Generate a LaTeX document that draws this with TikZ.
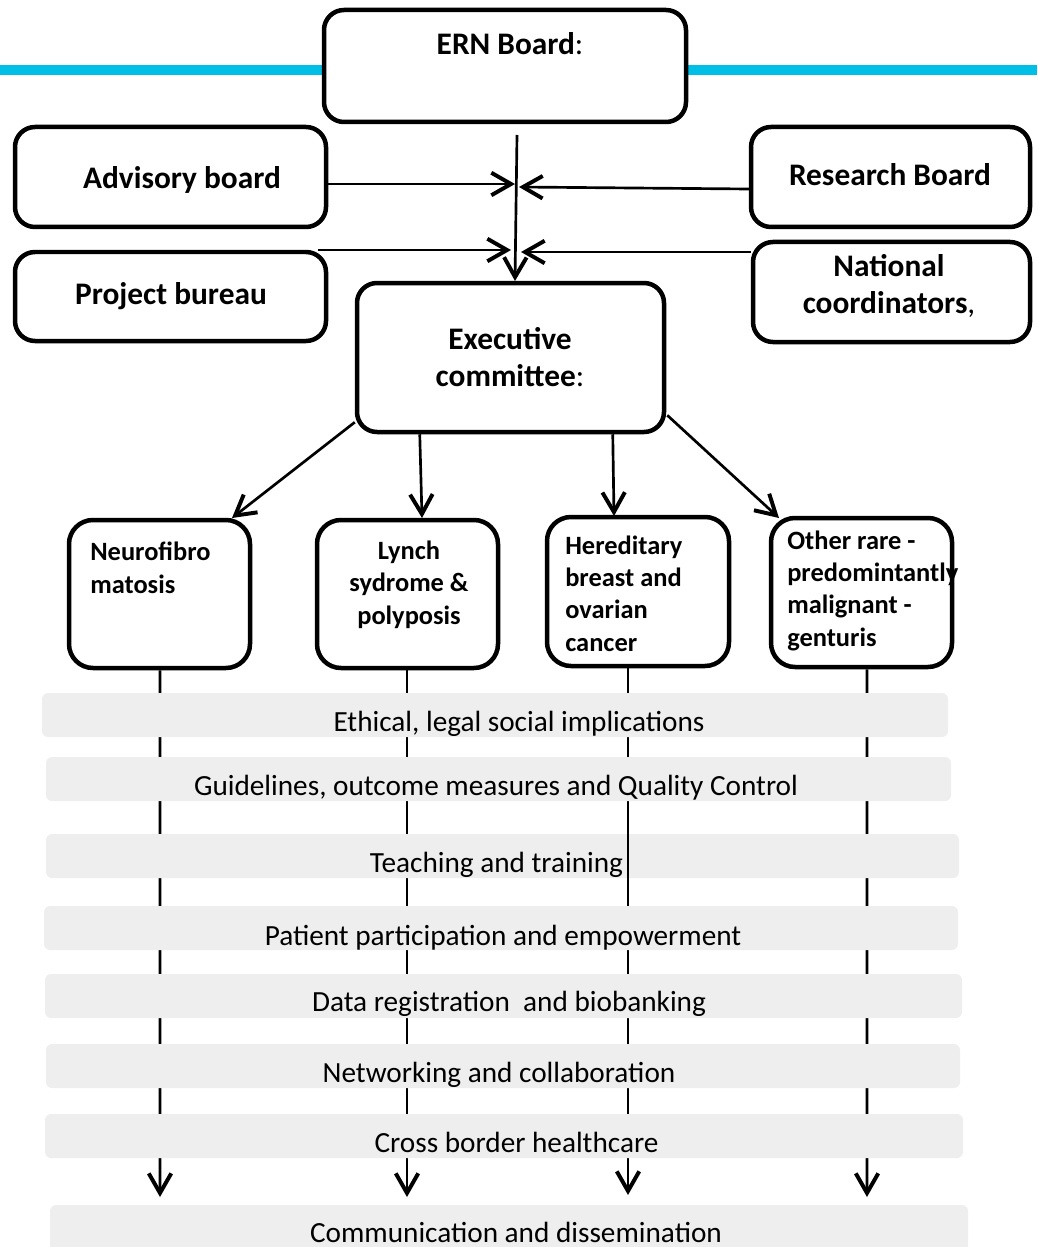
\documentclass[tikz,border=0pt]{standalone}
\usepackage{fontspec}
\setmainfont{Carlito}
\usetikzlibrary{arrows.meta}
\definecolor{ernblue}{RGB}{0,191,230}
\definecolor{barg}{RGB}{238,238,238}
\newcommand\pxl[1]{#1*0.025cm}
\begin{document}
\begin{tikzpicture}[x=0.025cm,y=-0.025cm,
  bx/.style={draw, line width=3.2pt, rounded corners=0.5cm, fill=white, inner sep=0pt},
  bt/.style={font=\fontsize{22.3}{26.3}\selectfont, align=center, inner sep=0pt, anchor=base},
  ct/.style={font=\fontsize{18.8}{22.8}\selectfont\bfseries, inner sep=0pt},
  barbox/.style={fill=barg, rounded corners=0.15cm, inner sep=0pt, draw=none},
  bartxt/.style={font=\fontsize{20.8}{25}\selectfont, inner sep=0pt, anchor=base},
  conn/.style={line width=1.9pt, -{Straight Barb[length=14pt,width=16pt,line width=2.8pt]}},
  vline/.style={line width=1.9pt}]
\useasboundingbox (0,0) rectangle (1037,1247);
\clip (0,0) rectangle (1037,1247);
% cyan band
\fill[ernblue] (0,65) rectangle (1037,75);
% top boxes
\node[bx, minimum width=\pxl{362}, minimum height=\pxl{112}] (ern) at (505,66) {};
\node[bt] (erntxt) at (510,55) {\textbf{ERN Board}:};
\node[bx, minimum width=\pxl{311}, minimum height=\pxl{100}] (adv) at (170.5,177) {};
\node[bt] (advtxt) at (182,189) {\textbf{Advisory board}};
\node[bx, minimum width=\pxl{279}, minimum height=\pxl{100}] (res) at (890.5,177) {};
\node[bt] (restxt) at (890,186) {\textbf{Research Board}};
\node[bx, minimum width=\pxl{311}, minimum height=\pxl{89}] (proj) at (170.5,296.5) {};
\node[bt] (projtxt) at (171,304) {\textbf{Project bureau}};
\node[bx, minimum width=\pxl{277}, minimum height=\pxl{100}] (nat) at (891.5,292) {};
\node[bt] (nattxt) at (889,313) {\textbf{National}\\\textbf{coordinators},};
\node[bx, minimum width=\pxl{307}, minimum height=\pxl{149}] (exec) at (510.5,357.5) {};
\node[bt] (exectxt) at (510,386) {\textbf{Executive}\\\textbf{committee}:};
% converging connectors
\coordinate (jtop) at (517,135);
\coordinate (jbot) at (515,281);
\coordinate (ja) at (515,184);
\coordinate (jr) at (519,187);
\coordinate (jp) at (511,250);
\coordinate (jn) at (521,252);
\coordinate (pstart) at (318,250);
\draw[conn] (jtop) -- (jbot);
\draw[conn] (adv.east |- ja) -- (ja);
\draw[conn] (res.west) ++(0,12) -- (jr);
\draw[conn] (pstart) -- (jp);
\draw[conn] (nat.west) ++(0,-40) -- (jn);
% category boxes
\node[bx, rounded corners=0.6cm, minimum width=\pxl{181}, minimum height=\pxl{148}] (neuro) at (159.5,594) {};
\node[bx, rounded corners=0.6cm, minimum width=\pxl{181}, minimum height=\pxl{148}] (lynch) at (407.5,594) {};
\node[bx, rounded corners=0.6cm, minimum width=\pxl{182}, minimum height=\pxl{149}] (hered) at (638,591.5) {};
\node[bx, rounded corners=0.6cm, minimum width=\pxl{181}, minimum height=\pxl{149}] (other) at (861.5,592.5) {};
\node[ct, align=left, anchor=base west] (neurotxt) at (90,593) {Neurofibro\\matosis};
\node[ct, align=center, anchor=base] (lynchtxt) at (409,624) {Lynch\\sydrome \&\\polyposis};
\node[ct, align=left, anchor=base west] (heredtxt) at (565,651) {Hereditary\\breast and\\ovarian\\cancer};
\node[ct, align=left, anchor=base west] (othertxt) at (787,646) {Other rare -\\predomintantly\\malignant -\\genturis};
% executive to categories
\coordinate (c1) at (232,518);
\coordinate (c2) at (422,518);
\coordinate (c3) at (614,516);
\coordinate (c4) at (779,518);
\draw[conn] (exec.south west) ++(0,-12) -- (c1);
\draw[conn] (exec.south west) ++(65,0) -- (c2);
\draw[conn] (exec.south west) ++(258,0) -- (c3);
\draw[conn] (exec.south east) ++(1,-19) -- (c4);
% vertical lines down to communication
\coordinate (d1) at (160,1197);
\coordinate (d2) at (407,1197);
\coordinate (d3) at (628,1195);
\coordinate (d4) at (867,1197);
\draw[conn] (neuro.south) ++(0.5,0) -- (d1);
\draw[conn] (lynch.south) ++(-0.5,0) -- (d2);
\draw[conn] (hered.south) ++(-10,0) -- (d3);
\draw[conn] (other.south) ++(5.5,0) -- (d4);
% bars
\node[barbox, minimum width=\pxl{906}, minimum height=\pxl{44}] (b1) at (495,715) {};
\node[barbox, minimum width=\pxl{905}, minimum height=\pxl{44}] (b2) at (498.5,779) {};
\node[barbox, minimum width=\pxl{913}, minimum height=\pxl{44}] (b3) at (502.5,856) {};
\node[barbox, minimum width=\pxl{914}, minimum height=\pxl{44}] (b4) at (501,928) {};
\node[barbox, minimum width=\pxl{917}, minimum height=\pxl{44}] (b5) at (503.5,996) {};
\node[barbox, minimum width=\pxl{914}, minimum height=\pxl{44}] (b6) at (503,1066) {};
\node[barbox, minimum width=\pxl{918}, minimum height=\pxl{44}] (b7) at (504,1136) {};
\node[barbox, minimum width=\pxl{918}, minimum height=\pxl{60}] (b8) at (509,1235) {};
\node[bartxt] (t1) at (519,731) {Ethical, legal social implications};
\node[bartxt] (t2) at (496,795) {Guidelines, outcome measures and Quality Control};
\node[bartxt] (t3) at (496.5,872) {Teaching and training};
\node[bartxt] (t4) at (503,945) {Patient participation and empowerment};
\node[bartxt] (t5) at (509,1011) {Data registration~ and biobanking};
\node[bartxt] (t6) at (499,1082) {Networking and collaboration};
\node[bartxt] (t7) at (516.5,1152) {Cross border healthcare};
\node[bartxt] (t8) at (516,1242) {Communication and dissemination};
% segment of the hereditary line visible over the teaching bar
\coordinate (s1) at (628,802);
\coordinate (s2) at (628,905);
\draw[vline] (s1) -- (s2);
\end{tikzpicture}
\end{document}
